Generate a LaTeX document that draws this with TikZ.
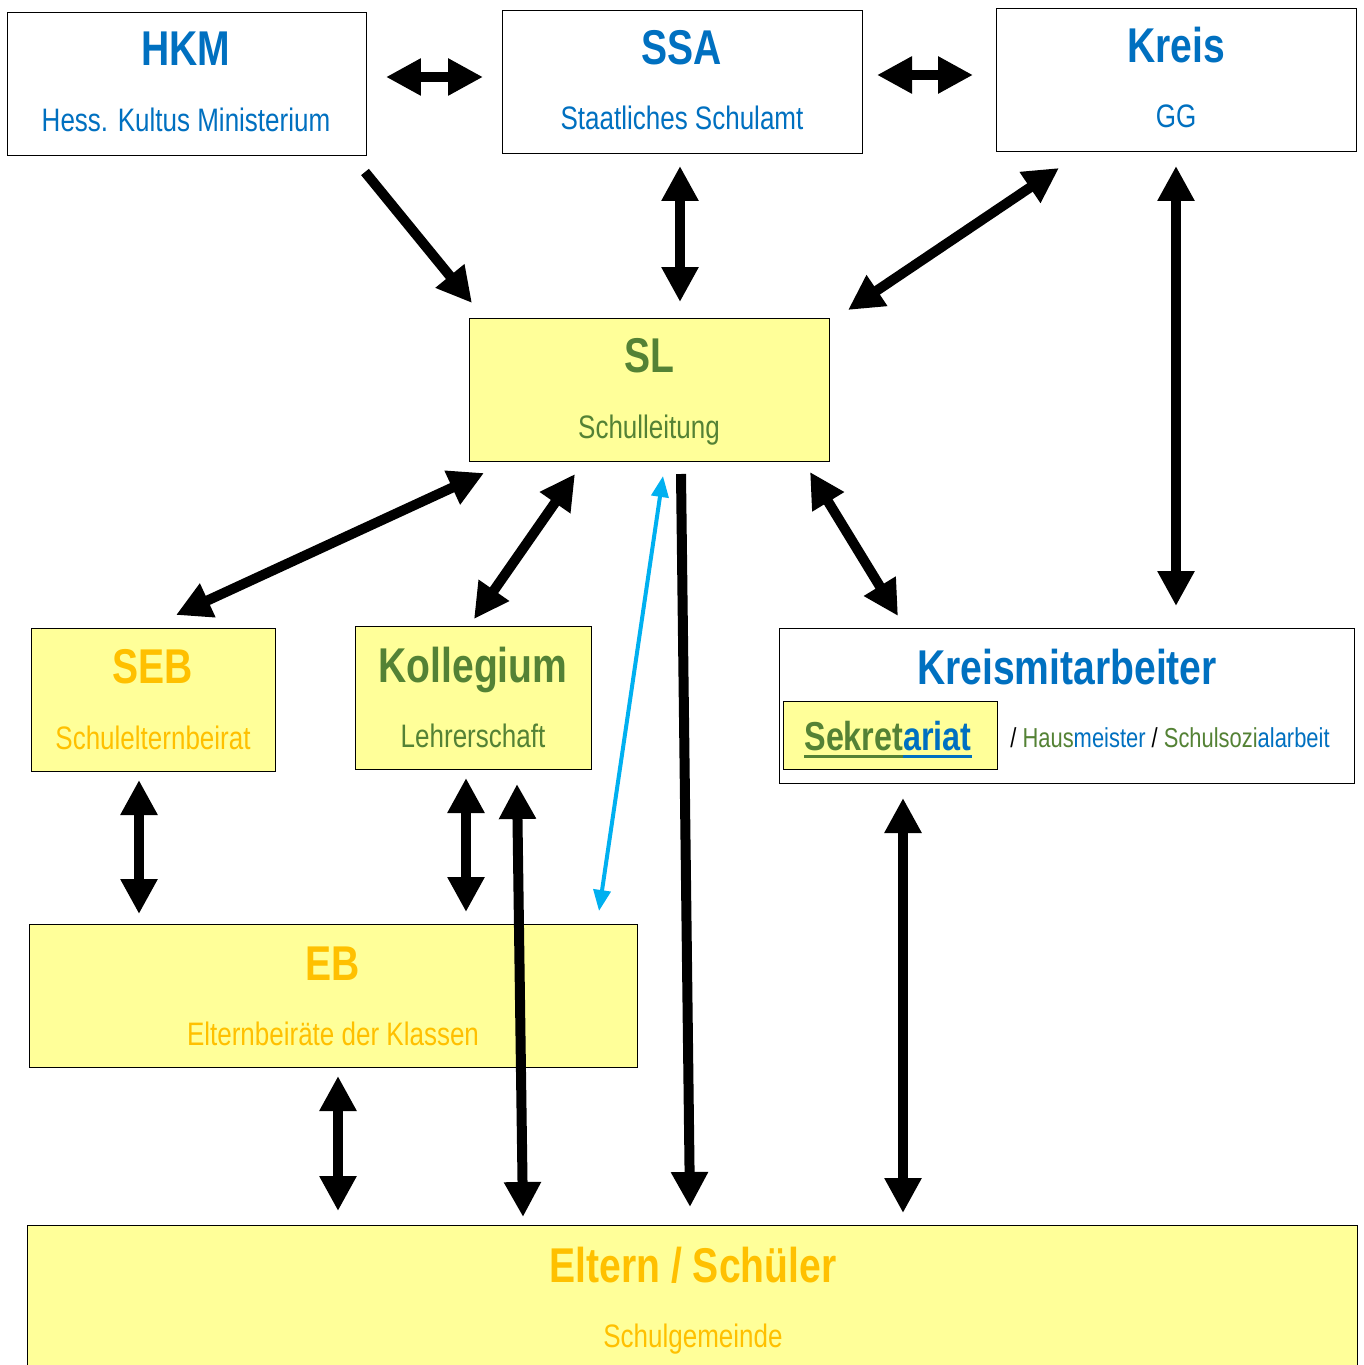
\documentclass[tikz,border=0pt]{standalone}
\usepackage{fontspec}
\setmainfont{Liberation Sans}[FakeStretch=0.8]
\usetikzlibrary{arrows.meta}
\definecolor{kmblue}{HTML}{0070C0}
\definecolor{kmgreen}{HTML}{548235}
\definecolor{kmgold}{HTML}{FFC000}
\definecolor{kmyellow}{HTML}{FFFF99}
\definecolor{kmcyan}{HTML}{00B0F0}
\tikzset{
	whitebox/.style={draw=black, line width=0.5pt, fill=white, inner sep=0pt, outer sep=0pt},
	yellowbox/.style={whitebox, fill=kmyellow},
	bigtip/.tip={Triangle[length=0.7cm,width=0.7cm]},
	smalltip/.tip={Triangle[length=0.42cm,width=0.34cm]},
	bothways/.style={line width=0.2cm, bigtip-bigtip},
	oneway/.style={line width=0.2cm, -bigtip},
	blueway/.style={draw=kmcyan, line width=0.08cm, smalltip-smalltip}
}
\begin{document}
\begin{tikzpicture}[x=0.02cm, y=-0.02cm]
			\newcommand{\mytitle}[2]{
				\fontsize{27.8}{30}\selectfont\bfseries\color{#1}{#2}
			}\newcommand{\mysub}[2]{
				\fontsize{18.5}{21}\selectfont\color{#1}{#2}
			}\newcommand{\mysmall}[1]{
				\fontsize{15.6}{18}\selectfont{#1}
			}\newcommand{\myul}[1]{%
				\setbox0\hbox{#1}\rlap{\rule[-4.3pt]{\wd0}{1.7pt}}\box0%
			}%Page frame
			\useasboundingbox (0,0) rectangle (1363,1365);
			%Top row
			\node [whitebox, minimum width=7.18cm, minimum height=2.86cm] (hkm) at (186.5,83.5) {};
			\node [whitebox, minimum width=7.20cm, minimum height=2.86cm] (ssa) at (682,81.5) {};
			\node [whitebox, minimum width=7.20cm, minimum height=2.86cm] (kreis) at (1176,79.5) {};
			\node [anchor=base] (hkmtitle) at (186,66) {\mytitle{kmblue}{HKM}};
			\node [anchor=base] (hkmsub) at (186,132) {\mysub{kmblue}{Hess. Kultus Ministerium}};
			\node [anchor=base] (ssatitle) at (682,65) {\mytitle{kmblue}{SSA}};
			\node [anchor=base] (ssasub) at (682,130) {\mysub{kmblue}{Staatliches Schulamt}};
			\node [anchor=base] (kreistitle) at (1176,63) {\mytitle{kmblue}{Kreis}};
			\node [anchor=base] (kreissub) at (1176,128) {\mysub{kmblue}{GG}};
			%School management
			\node [yellowbox, minimum width=7.20cm, minimum height=2.86cm] (sl) at (649,389.5) {};
			\node [anchor=base] (sltitle) at (649,372) {\mytitle{kmgreen}{SL}};
			\node [anchor=base] (slsub) at (649,438) {\mysub{kmgreen}{Schulleitung}};
			%Middle row
			\node [yellowbox, minimum width=4.88cm, minimum height=2.86cm] (seb) at (153,699.5) {};
			\node [anchor=base] (sebtitle) at (153,683) {\mytitle{kmgold}{SEB}};
			\node [anchor=base] (sebsub) at (153,749) {\mysub{kmgold}{Schulelternbeirat}};
			\node [yellowbox, minimum width=4.72cm, minimum height=2.86cm] (kol) at (473,697.5) {};
			\node [anchor=base] (koltitle) at (473,682) {\mytitle{kmgreen}{Kollegium}};
			\node [anchor=base] (kolsub) at (473,747) {\mysub{kmgreen}{Lehrerschaft}};
			\node [whitebox, minimum width=11.50cm, minimum height=3.10cm] (kma) at (1066.5,705.5) {};
			\node [anchor=base] (kmatitle) at (1067,684) {\mytitle{kmblue}{Kreismitarbeiter}};
			\node [yellowbox, minimum width=4.28cm, minimum height=1.36cm] (sek) at (890,735) {};
			\node [anchor=base] (sektitle) at (888,750) {\fontsize{23}{26}\selectfont\bfseries\color{kmgreen}\myul{Sekret}\color{kmblue}\myul{ariat}};
			\node [anchor=base west, inner sep=0] (kmaother) at (1010,747) {\mysmall{\color{black}/ \color{kmgreen}Haus\color{kmblue}meister \color{black}/ \color{kmgreen}Schulsozi\color{kmblue}alarbeit}};
			%Class parents
			\node [yellowbox, minimum width=12.16cm, minimum height=2.86cm] (eb) at (333,995.5) {};
			\node [anchor=base] (ebtitle) at (333,980) {\mytitle{kmgold}{EB}};
			\node [anchor=base] (ebsub) at (333,1045) {\mysub{kmgold}{Elternbeiräte der Klassen}};
			%School community
			\node [yellowbox, minimum width=26.62cm, minimum height=3.00cm] (elt) at (692.5,1300) {};
			\node [anchor=base] (elttitle) at (693,1282) {\mytitle{kmgold}{Eltern / Schüler}};
			\node [anchor=base] (eltsub) at (693,1347) {\mysub{kmgold}{Schulgemeinde}};
			%Arrow ends at the top
			\coordinate (hkmE) at (386,77);
			\coordinate (ssaW) at (483,77);
			\coordinate (ssaE) at (877,75);
			\coordinate (kreisW) at (973,75);
			\coordinate (hkmS) at (365,172);
			\coordinate (slNW) at (472,303);
			\coordinate (ssaS) at (680,166);
			\coordinate (slN) at (680,302);
			\coordinate (kreisSW) at (1059,168);
			\coordinate (slNE) at (848,310);
			\coordinate (kreisS) at (1176,166);
			\coordinate (kmaN) at (1176,606);
			%Arrow ends below SL
			\coordinate (slSW) at (484,473);
			\coordinate (sebN) at (176,615);
			\coordinate (slS) at (575,474);
			\coordinate (kolN) at (474,619);
			\coordinate (slDown) at (681,474);
			\coordinate (eltSL) at (690,1207);
			\coordinate (slSE) at (810,472);
			\coordinate (kmaNW) at (898,616);
			\coordinate (slBlue) at (663,476);
			\coordinate (ebBlue) at (599,911);
			%Arrow ends at the bottom
			\coordinate (sebS) at (139,780);
			\coordinate (ebSEB) at (139,914);
			\coordinate (kolS) at (466,778);
			\coordinate (ebKOL) at (466,912);
			\coordinate (kolLow) at (517,784);
			\coordinate (eltKOL) at (523,1217);
			\coordinate (ebS) at (338,1076);
			\coordinate (eltEB) at (338,1211);
			\coordinate (kmaS) at (903,798);
			\coordinate (eltKMA) at (903,1213);
			%Draw the arrows
			\draw [bothways] (hkmE) -- (ssaW);
			\draw [bothways] (ssaE) -- (kreisW);
			\draw [oneway] (hkmS) -- (slNW);
			\draw [bothways] (ssaS) -- (slN);
			\draw [bothways] (kreisSW) -- (slNE);
			\draw [bothways] (kreisS) -- (kmaN);
			\draw [bothways] (slSW) -- (sebN);
			\draw [bothways] (slS) -- (kolN);
			\draw [oneway] (slDown) -- (eltSL);
			\draw [bothways] (slSE) -- (kmaNW);
			\draw [blueway] (slBlue) -- (ebBlue);
			\draw [bothways] (sebS) -- (ebSEB);
			\draw [bothways] (kolS) -- (ebKOL);
			\draw [bothways] (kolLow) -- (eltKOL);
			\draw [bothways] (ebS) -- (eltEB);
			\draw [bothways] (kmaS) -- (eltKMA);
\end{tikzpicture}
\end{document}
